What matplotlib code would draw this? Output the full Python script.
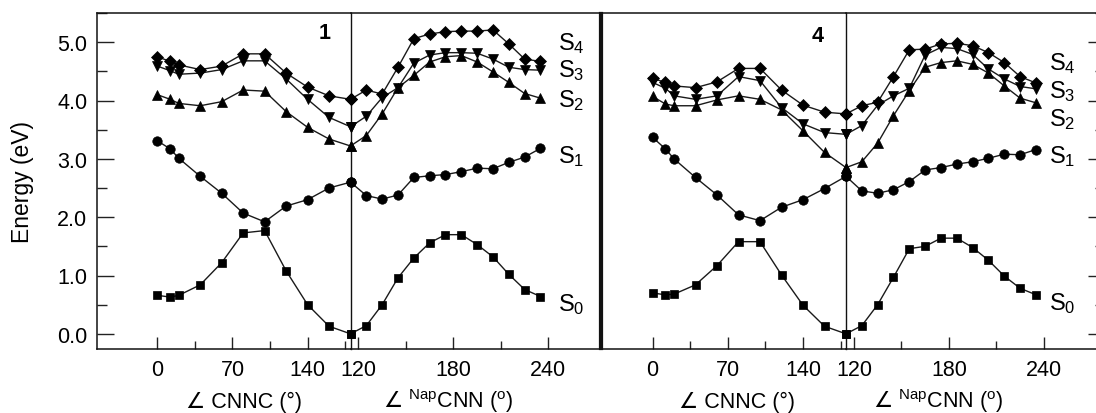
import matplotlib
matplotlib.use("Agg")
import matplotlib.pyplot as plt
from matplotlib.ticker import FixedLocator, MultipleLocator

plt.rcParams['font.family'] = ['Liberation Sans', 'DejaVu Sans']
plt.rcParams['mathtext.fontset'] = 'custom'
plt.rcParams['mathtext.rm'] = 'Liberation Sans'
plt.rcParams['mathtext.it'] = 'Liberation Sans'
plt.rcParams['mathtext.sf'] = 'DejaVu Sans'

# ---------------- data ----------------
cnnc = [0, 12, 20, 40, 60, 80, 100, 120, 140, 160, 180]
nap = [115, 125, 135, 145, 155, 165, 175, 185, 195, 205, 215, 225, 235]

state_names = ['S$_0$', 'S$_1$', 'S$_2$', 'S$_3$', 'S$_4$']
state_markers = ['s', 'o', '^', 'v', 'D']

# panel "1"
p1_cnnc_S0 = [0.66, 0.63, 0.66, 0.84, 1.22, 1.73, 1.77, 1.08, 0.50, 0.13, 0.00]
p1_cnnc_S1 = [3.31, 3.17, 3.01, 2.70, 2.41, 2.07, 1.92, 2.19, 2.30, 2.50, 2.60]
p1_cnnc_S2 = [4.10, 4.02, 3.95, 3.91, 3.98, 4.18, 4.16, 3.81, 3.54, 3.34, 3.22]
p1_cnnc_S3 = [4.59, 4.51, 4.45, 4.47, 4.53, 4.68, 4.68, 4.37, 4.02, 3.71, 3.55]
p1_cnnc_S4 = [4.75, 4.67, 4.61, 4.53, 4.59, 4.80, 4.80, 4.47, 4.23, 4.08, 4.02]

p1_nap_S0 = [0.00, 0.14, 0.50, 0.96, 1.30, 1.56, 1.70, 1.70, 1.53, 1.32, 1.02, 0.76, 0.64]
p1_nap_S1 = [2.60, 2.37, 2.31, 2.38, 2.68, 2.71, 2.73, 2.78, 2.84, 2.83, 2.94, 3.03, 3.18]
p1_nap_S2 = [3.22, 3.40, 3.77, 4.22, 4.43, 4.66, 4.75, 4.77, 4.66, 4.49, 4.31, 4.12, 4.04]
p1_nap_S3 = [3.55, 3.73, 4.05, 4.22, 4.64, 4.78, 4.82, 4.82, 4.81, 4.71, 4.57, 4.53, 4.52]
p1_nap_S4 = [4.02, 4.18, 4.11, 4.57, 5.06, 5.14, 5.18, 5.19, 5.19, 5.21, 4.97, 4.71, 4.67]

# panel "4"
p4_cnnc_S0 = [0.70, 0.67, 0.68, 0.84, 1.17, 1.58, 1.58, 1.01, 0.49, 0.13, 0.00]
p4_cnnc_S1 = [3.37, 3.17, 3.00, 2.68, 2.38, 2.04, 1.94, 2.17, 2.30, 2.49, 2.70]
p4_cnnc_S2 = [4.07, 3.94, 3.91, 3.91, 4.01, 4.08, 4.02, 3.84, 3.48, 3.11, 2.85]
p4_cnnc_S3 = [4.31, 4.21, 4.08, 4.02, 4.08, 4.41, 4.34, 3.88, 3.60, 3.45, 3.42]
p4_cnnc_S4 = [4.38, 4.31, 4.25, 4.22, 4.32, 4.55, 4.55, 4.18, 3.92, 3.80, 3.77]

p4_nap_S0 = [0.00, 0.14, 0.50, 0.97, 1.46, 1.50, 1.64, 1.64, 1.48, 1.26, 0.99, 0.78, 0.67]
p4_nap_S1 = [2.70, 2.45, 2.41, 2.47, 2.61, 2.81, 2.85, 2.91, 2.95, 3.01, 3.08, 3.07, 3.16]
p4_nap_S2 = [2.85, 2.95, 3.27, 3.74, 4.17, 4.57, 4.65, 4.68, 4.62, 4.47, 4.25, 4.04, 3.96]
p4_nap_S3 = [3.42, 3.57, 3.92, 4.08, 4.21, 4.78, 4.91, 4.89, 4.79, 4.54, 4.37, 4.24, 4.20]
p4_nap_S4 = [3.77, 3.91, 3.97, 4.41, 4.87, 4.88, 4.97, 4.98, 4.94, 4.82, 4.65, 4.41, 4.30]

y_ticks = [0.0, 1.0, 2.0, 3.0, 4.0, 5.0]
y_tick_labels = ['0.0', '1.0', '2.0', '3.0', '4.0', '5.0']
cnnc_ticks = [0, 70, 140]
cnnc_minor = [35, 105, 175]
nap_ticks = [120, 180, 240]
nap_minor = [150, 210]

# ---------------- layout ----------------
W, H = 1096, 414
fig = plt.figure(figsize=(W / 100, H / 100), dpi=100)

def rect(x0, x1, y0=14, y1=350):
    return [x0 / W, 1 - y1 / H, (x1 - x0) / W, (y1 - y0) / H]

YLIM = (-0.26, 5.5)
LINE = '#1a1a1a'
ms = {'s': 5.8, 'o': 6.8, '^': 7.3, 'v': 7.3, 'D': 6.2}

def style_axis(ax):
    ax.patch.set_visible(False)
    ax.set_ylim(*YLIM)
    ax.tick_params(axis='both', which='both', direction='in', labelsize=15.5,
                   color='#222222')
    ax.tick_params(axis='x', which='major', length=9, width=1.0, pad=7)
    ax.tick_params(axis='x', which='minor', length=6, width=1.0)
    ax.tick_params(axis='y', which='major', length=12, width=1.0, pad=7)
    ax.tick_params(axis='y', which='minor', length=7, width=1.0)
    ax.yaxis.set_major_locator(FixedLocator(y_ticks))
    ax.yaxis.set_minor_locator(MultipleLocator(0.5))
    for s in ax.spines.values():
        s.set_linewidth(1.1)
        s.set_color('#111111')

def draw(ax, xs, series):
    for vals, m in zip(series, state_markers):
        ax.plot(xs, vals, color=LINE, lw=1.0, marker=m, markersize=ms[m],
                markerfacecolor='black', markeredgecolor='black',
                markeredgewidth=0.5, clip_on=False, zorder=3)

def panel(x0, xj, x1, cnnc_lim0, nap_lim1, cnnc_series, nap_series,
          left_labels, right_ticks):
    a1 = fig.add_axes(rect(x0, xj))
    a2 = fig.add_axes(rect(xj, x1))
    for a in (a1, a2):
        style_axis(a)
    a1.set_xlim(cnnc_lim0, 180)
    a2.set_xlim(115, nap_lim1)
    a1.xaxis.set_major_locator(FixedLocator(cnnc_ticks))
    a1.xaxis.set_minor_locator(FixedLocator(cnnc_minor))
    a2.xaxis.set_major_locator(FixedLocator(nap_ticks))
    a2.xaxis.set_minor_locator(FixedLocator(nap_minor))
    a1.spines['right'].set_linewidth(1.0)
    a2.spines['left'].set_visible(False)
    a2.spines['right'].set_linewidth(1.6)
    if left_labels:
        a1.set_yticks(y_ticks, y_tick_labels)
        a1.tick_params(axis='y', which='both', right=False)
        a2.tick_params(axis='y', which='both', left=False, right=False,
                       labelleft=False)
    else:
        a1.spines['left'].set_linewidth(1.6)
        a1.tick_params(axis='y', which='both', left=False, right=False,
                       labelleft=False)
        a2.tick_params(axis='y', which='both', left=False, right=right_ticks,
                       labelleft=False)
    a1.tick_params(axis='y', which='both', right=False)
    draw(a1, cnnc, cnnc_series)
    draw(a2, nap, nap_series)
    return a1, a2

p1a, p1b = panel(97, 350.5, 600, -56.2, 272.6,
                 [p1_cnnc_S0, p1_cnnc_S1, p1_cnnc_S2, p1_cnnc_S3, p1_cnnc_S4],
                 [p1_nap_S0, p1_nap_S1, p1_nap_S2, p1_nap_S3, p1_nap_S4],
                 True, False)
p4a, p4b = panel(602, 846, 1105, -47.0, 278.6,
                 [p4_cnnc_S0, p4_cnnc_S1, p4_cnnc_S2, p4_cnnc_S3, p4_cnnc_S4],
                 [p4_nap_S0, p4_nap_S1, p4_nap_S2, p4_nap_S3, p4_nap_S4],
                 False, True)

# state labels
p1_label_y = [0.40, 2.94, 3.90, 4.41, 4.88]
p4_label_y = [0.43, 2.94, 3.57, 4.05, 4.54]
for name, y in zip(state_names, p1_label_y):
    p1b.text(246, y, name, fontsize=17, ha='left', va='baseline', clip_on=False)
for name, y in zip(state_names, p4_label_y):
    p4b.text(243.2, y, name, fontsize=17, ha='left', va='baseline', clip_on=False)

# panel ids
fig.text(325 / W, 1 - 39 / H, '1', fontsize=15.5, fontweight='bold',
         ha='center', va='baseline')
fig.text(818 / W, 1 - 42 / H, '4', fontsize=15.5, fontweight='bold',
         ha='center', va='baseline')

# axis labels
fig.text(22 / W, 1 - 182 / H, 'Energy (eV)', fontsize=16.5, rotation=90,
         ha='center', va='center')
lab_cnnc = '∠ CNNC (°)'
lab_nap = '$\\mathsf{∠}$ $^{\\mathrm{Nap}}$CNN ($^{\\mathrm{o}}$)'
for xc, lab in [(244, lab_cnnc), (448, lab_nap), (737, lab_cnnc), (938, lab_nap)]:
    fig.text(xc / W, 1 - 408 / H, lab, fontsize=15.5, ha='center', va='baseline')

fig.savefig('out.png', dpi=100)
